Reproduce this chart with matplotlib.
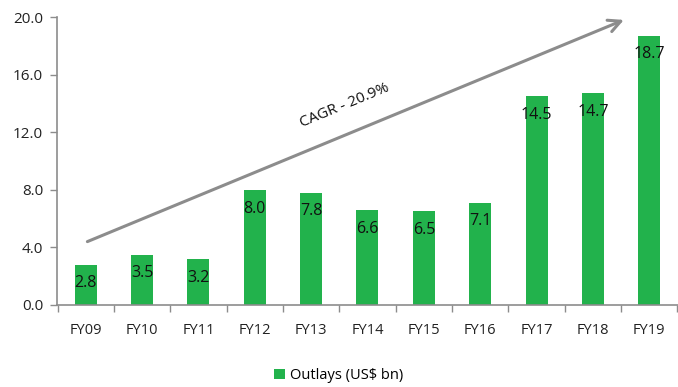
import matplotlib.pyplot as plt

# outlays by fiscal year, US$ bn
years = ['FY09', 'FY10', 'FY11', 'FY12', 'FY13', 'FY14', 'FY15', 'FY16', 'FY17', 'FY18', 'FY19']
outlays = [2.8, 3.5, 3.2, 8.0, 7.8, 6.6, 6.5, 7.1, 14.5, 14.7, 18.7]
yticks = [0, 4, 8, 12, 16, 20]

green = '#22b24c'
grey = '#8c8c8c'

plt.rcParams['font.family'] = ['Open Sans', 'DejaVu Sans']

fig = plt.figure(figsize=(6.78, 3.87), dpi=100)
ax = fig.add_axes([0.084, 0.212, 0.916, 0.744])

x = range(len(years))
bars = ax.bar(x, outlays, width=0.39, color=green, label='Outlays (US$ bn)', zorder=2)

for xi, v in zip(x, outlays):
    ax.text(xi, v - 1.3, f'{v:.1f}', ha='center', va='center', fontsize=11.5, color='#111111', zorder=3)

ax.set_xlim(-0.51, len(years) - 0.49)
ax.set_ylim(0, 20)
ax.set_yticks(yticks)
ax.set_yticklabels([f'{t:.1f}' for t in yticks], fontsize=11, color='#222222')
ax.set_xticks(list(x))
ax.set_xticklabels(years, fontsize=10.5, color='#222222')

# tick marks sit between the categories
ax.set_xticks([i + 0.5 for i in range(-1, len(years))], minor=True)
ax.tick_params(axis='x', which='major', length=0, pad=13)
ax.tick_params(axis='x', which='minor', length=5, color=grey, width=1)
ax.tick_params(axis='y', length=5, color=grey, width=1, pad=5)

for side in ['top', 'right']:
    ax.spines[side].set_visible(False)
for side in ['left', 'bottom']:
    ax.spines[side].set_color(grey)
    ax.spines[side].set_linewidth(1.2)

# growth arrow
ax.annotate('', xy=(9.55, 19.8), xytext=(0.03, 4.4),
            arrowprops=dict(arrowstyle='->', color=grey, lw=2.2, mutation_scale=22,
                            shrinkA=0, shrinkB=0),
            annotation_clip=False, zorder=4)
ax.text(4.6, 13.85, 'CAGR - 20.9%', rotation=22.5, ha='center', va='center',
        fontsize=11, color='#111111', rotation_mode='anchor')

fig.legend(handles=[bars], labels=['Outlays (US$ bn)'], loc='center',
           bbox_to_anchor=(0.5, 0.03), frameon=False, fontsize=10.5,
           handlelength=0.7, handleheight=0.7, handletextpad=0.4)

fig.savefig('out.png', dpi=100)
